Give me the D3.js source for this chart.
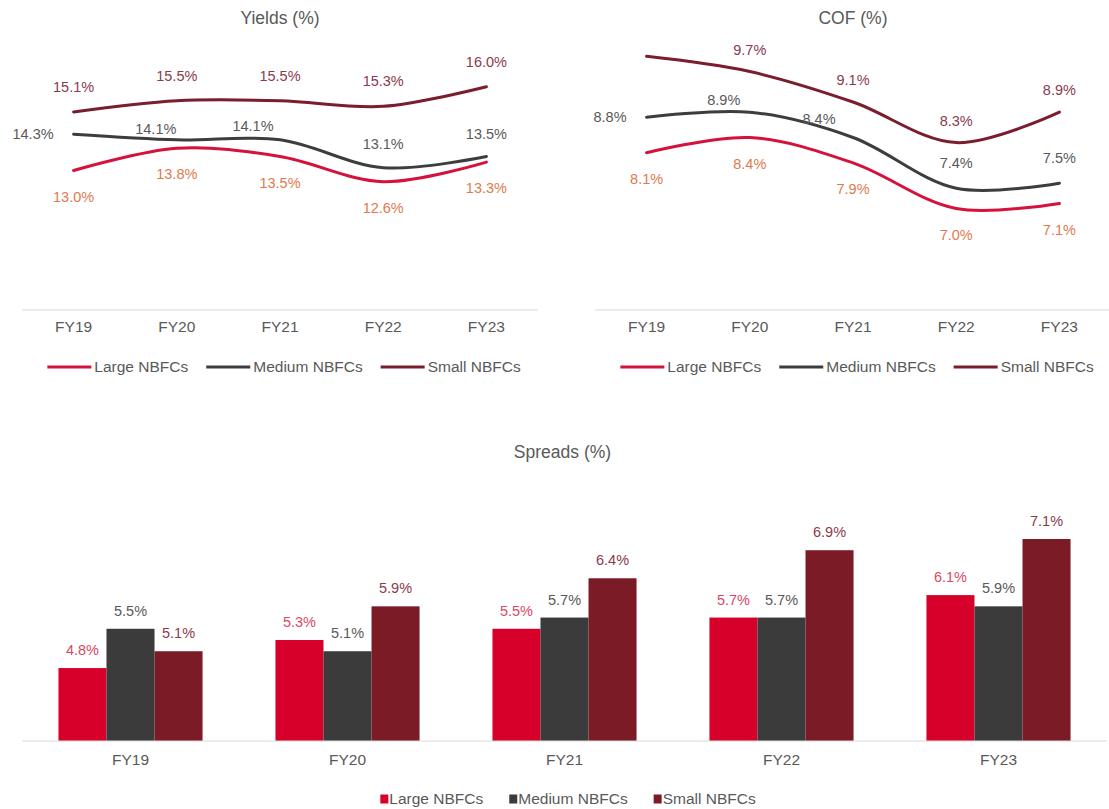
<!DOCTYPE html>
<html>
<head>
<meta charset="utf-8">
<script src="https://cdn.jsdelivr.net/npm/d3@7/dist/d3.min.js"></script>
<style>
  html, body { margin: 0; padding: 0; background: #ffffff; }
  svg { display: block; font-family: "Liberation Sans", Arial, sans-serif; }
</style>
</head>
<body>
<svg id="chart" width="1109" height="809"></svg>
<script>
// ---- data ----
const years = ["FY19", "FY20", "FY21", "FY22", "FY23"];
const seriesNames = ["Large NBFCs", "Medium NBFCs", "Small NBFCs"];

const yieldsLarge  = [13.0, 13.8, 13.5, 12.6, 13.3];
const yieldsMedium = [14.3, 14.1, 14.1, 13.1, 13.5];
const yieldsSmall  = [15.1, 15.5, 15.5, 15.3, 16.0];

const cofLarge  = [8.1, 8.4, 7.9, 7.0, 7.1];
const cofMedium = [8.8, 8.9, 8.4, 7.4, 7.5];
const cofSmall  = [10.0, 9.7, 9.1, 8.3, 8.9];
const cofSmallShowLabel = [false, true, true, true, true];

const spreadLarge  = [4.8, 5.3, 5.5, 5.7, 6.1];
const spreadMedium = [5.5, 5.1, 5.7, 5.7, 5.9];
const spreadSmall  = [5.1, 5.9, 6.4, 6.9, 7.1];

// ---- styles ----
const lineColors  = ["#d4123c", "#3d3d3d", "#7a1d2c"];
const barColors   = ["#d6002a", "#3b3b3b", "#7a1b26"];
const lineLabelColors = ["#e07a4e", "#595959", "#8a3a4e"];
const barLabelColors  = ["#da4866", "#595959", "#8a3a4e"];
const axisColor = "#d9d9d9";
const textColor = "#595959";

// label nudges for line charts: [dx, dy, anchor] per point
const yieldsLabelNudge = [
  years.map(() => [0, 26, "middle"]),
  [[-20, 0, "end"], [-21, -11, "middle"], [-27, -14, "middle"], [0, -24, "middle"], [0, -23, "middle"]],
  years.map(() => [0, -25, "middle"])
];
const cofLabelNudge = [
  years.map(() => [0, 26, "middle"]),
  [[-20, 0, "end"], [-26, -12, "middle"], [-34, -19, "middle"], [0, -25, "middle"], [0, -25, "middle"]],
  years.map(() => [0, -22, "middle"])
];

const svg = d3.select("#chart");

function fmt(v) { return v.toFixed(1) + "%"; }

function lineChart(opts) {
  const g = svg.append("g");
  const x = d3.scaleBand().domain(years).range(opts.xRange);
  const y = d3.scaleLinear().domain(opts.yDomain).range([310, 31]);
  const cx = d => x(d) + x.bandwidth() / 2;
  const mid = (opts.xRange[0] + opts.xRange[1]) / 2;

  g.append("text")
    .attr("x", mid).attr("y", 18).attr("dy", "0.35em")
    .attr("text-anchor", "middle").attr("font-size", 17.5)
    .attr("fill", textColor).text(opts.title);

  // category axis
  const axis = g.append("g").attr("transform", "translate(0,310)")
    .call(d3.axisBottom(x).tickSize(0).tickPadding(11));
  axis.select(".domain").attr("stroke", axisColor).attr("stroke-width", 1.2)
    .attr("d", `M${opts.xRange[0]},0H${opts.xRange[1]}`);
  axis.selectAll("text").attr("font-size", 15.5).attr("fill", textColor)
    .attr("font-family", "Liberation Sans, Arial, sans-serif");

  const line = d3.line()
    .x((d, i) => cx(years[i]))
    .y(d => y(d))
    .curve(d3.curveCatmullRom.alpha(0.5));

  opts.series.forEach((vals, s) => {
    g.append("path").datum(vals)
      .attr("d", line).attr("fill", "none")
      .attr("stroke", lineColors[s]).attr("stroke-width", 3)
      .attr("stroke-linecap", "round");
  });

  opts.series.forEach((vals, s) => {
    vals.forEach((v, i) => {
      if (opts.showLabel && opts.showLabel[s] && !opts.showLabel[s][i]) return;
      const [dx, dy, anchor] = opts.nudge[s][i];
      g.append("text")
        .attr("x", cx(years[i]) + dx).attr("y", y(v) + dy).attr("dy", "0.35em")
        .attr("text-anchor", anchor).attr("font-size", 14.5)
        .attr("fill", lineLabelColors[s]).text(fmt(v));
    });
  });

  // legend
  const leg = g.append("g").attr("transform", "translate(0,367)");
  let cursor = 0;
  const items = [];
  seriesNames.forEach((name, s) => {
    const it = leg.append("g");
    it.append("line").attr("x1", 0).attr("x2", 44).attr("y1", 0).attr("y2", 0)
      .attr("stroke", lineColors[s]).attr("stroke-width", 3);
    const t = it.append("text").attr("x", 47).attr("dy", "0.35em")
      .attr("font-size", 15.5).attr("fill", textColor).text(name);
    const w = 47 + t.node().getComputedTextLength();
    items.push([it, cursor]);
    cursor += w + 18;
  });
  const total = cursor - 18;
  const start = mid + 4 - total / 2;
  items.forEach(([it, off]) => it.attr("transform", `translate(${start + off},0)`));
}

lineChart({
  title: "Yields (%)",
  xRange: [22, 538],
  yDomain: [8, 18],
  series: [yieldsLarge, yieldsMedium, yieldsSmall],
  nudge: yieldsLabelNudge
});

lineChart({
  title: "COF (%)",
  xRange: [595, 1111],
  yDomain: [5, 10.5],
  series: [cofLarge, cofMedium, cofSmall],
  showLabel: [null, null, cofSmallShowLabel],
  nudge: cofLabelNudge
});

// ---- Spreads grouped bar chart ----
(function () {
  const g = svg.append("g");
  const xRange = [22, 1107];
  const x0 = d3.scaleBand().domain(years).range(xRange);
  const gw = x0.bandwidth() * 0.664;
  const x1 = d3.scaleBand().domain(seriesNames)
    .range([(x0.bandwidth() - gw) / 2, (x0.bandwidth() + gw) / 2]);
  const y = d3.scaleLinear().domain([3.5, 8]).range([741, 488.5]);
  const series = [spreadLarge, spreadMedium, spreadSmall];
  const mid = (xRange[0] + xRange[1]) / 2;

  g.append("text")
    .attr("x", mid - 2).attr("y", 452).attr("dy", "0.35em")
    .attr("text-anchor", "middle").attr("font-size", 17.5)
    .attr("fill", textColor).text("Spreads (%)");

  years.forEach((yr, i) => {
    const grp = g.append("g").attr("transform", `translate(${x0(yr)},0)`);
    seriesNames.forEach((name, s) => {
      const v = series[s][i];
      grp.append("rect")
        .attr("x", x1(name)).attr("width", x1.bandwidth())
        .attr("y", y(v)).attr("height", y.range()[0] - y(v))
        .attr("fill", barColors[s]);
      grp.append("text")
        .attr("x", x1(name) + x1.bandwidth() / 2).attr("y", y(v) - 18).attr("dy", "0.35em")
        .attr("text-anchor", "middle").attr("font-size", 14.5)
        .attr("fill", barLabelColors[s]).text(fmt(v));
    });
  });

  const axis = g.append("g").attr("transform", "translate(0,741)")
    .call(d3.axisBottom(x0).tickSize(0).tickPadding(13));
  axis.select(".domain").attr("stroke", axisColor).attr("stroke-width", 1.2)
    .attr("d", `M${xRange[0]},0H${xRange[1]}`);
  axis.selectAll("text").attr("font-size", 15.5).attr("fill", textColor)
    .attr("font-family", "Liberation Sans, Arial, sans-serif");

  // legend
  const leg = g.append("g").attr("transform", "translate(0,799)");
  let cursor = 0;
  const items = [];
  seriesNames.forEach((name, s) => {
    const it = leg.append("g");
    it.append("rect").attr("x", 0).attr("y", -4.5).attr("width", 8).attr("height", 9)
      .attr("fill", barColors[s]);
    const t = it.append("text").attr("x", 9).attr("dy", "0.35em")
      .attr("font-size", 15.5).attr("fill", textColor).text(name);
    const w = 9 + t.node().getComputedTextLength();
    items.push([it, cursor]);
    cursor += w + 26;
  });
  const total = cursor - 26;
  const start = 568 - total / 2;
  items.forEach(([it, off]) => it.attr("transform", `translate(${start + off},0)`));
})();
</script>
</body>
</html>
